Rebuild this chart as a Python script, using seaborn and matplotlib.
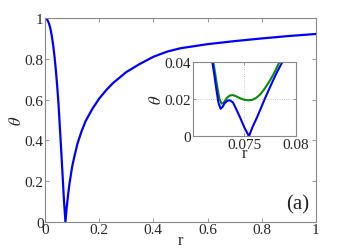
import matplotlib
matplotlib.use("Agg")
import matplotlib.pyplot as plt
import seaborn as sns
import pandas as pd

# main curve (blue)
r_main = [0.0, 0.005, 0.01, 0.015, 0.02, 0.025, 0.03, 0.035, 0.04, 0.045, 0.05, 0.055,
          0.06, 0.065, 0.07, 0.0754, 0.08, 0.085, 0.09, 0.1, 0.11, 0.12, 0.135, 0.15,
          0.175, 0.2, 0.225, 0.25, 0.3, 0.35, 0.4, 0.45, 0.5, 0.6, 0.7, 0.8, 0.9, 1.0]
theta_main = [1.0, 0.997, 0.988, 0.972, 0.948, 0.912, 0.868, 0.812, 0.745, 0.665, 0.575, 0.46,
              0.345, 0.225, 0.105, 0.0, 0.07, 0.13, 0.185, 0.27, 0.33, 0.385, 0.445, 0.495,
              0.555, 0.605, 0.645, 0.68, 0.735, 0.775, 0.81, 0.835, 0.852, 0.872, 0.887,
              0.9, 0.912, 0.922]

# inset curves
r_in_blue = [0.0719, 0.0721, 0.0723, 0.0725, 0.0727, 0.0729, 0.0731, 0.0734, 0.0736, 0.0739,
             0.0742, 0.0746, 0.0750, 0.07545, 0.0758, 0.0762, 0.0766, 0.0770, 0.0774,
             0.0778, 0.0782, 0.0786, 0.0789]
theta_in_blue = [0.040, 0.033, 0.025, 0.018, 0.0148, 0.0158, 0.0178, 0.0192, 0.0193, 0.0182,
                 0.0148, 0.0100, 0.0048, 0.0, 0.0050, 0.0098, 0.0150, 0.0203, 0.0253,
                 0.0302, 0.0348, 0.0390, 0.0420]
r_in_green = [0.0720, 0.0722, 0.0724, 0.0726, 0.0728, 0.0730, 0.0733, 0.0736, 0.0739,
              0.0742, 0.0746, 0.0750, 0.0754, 0.0758, 0.0762, 0.0766, 0.0770, 0.0774,
              0.0778, 0.0782, 0.0785]
theta_in_green = [0.040, 0.033, 0.026, 0.020, 0.0175, 0.0180, 0.0205, 0.0219, 0.0221,
                  0.0215, 0.0204, 0.0196, 0.0193, 0.0196, 0.0208, 0.0228, 0.0258, 0.0292,
                  0.0330, 0.0375, 0.0410]

main_xticks = [0, 0.2, 0.4, 0.6, 0.8, 1]
main_xticklabels = ["0", "0.2", "0.4", "0.6", "0.8", "1"]
main_yticks = [0, 0.2, 0.4, 0.6, 0.8, 1]
main_yticklabels = ["0", "0.2", "0.4", "0.6", "0.8", "1"]
in_xticks = [0.075, 0.08]
in_xticklabels = ["0.075", "0.08"]
in_yticks = [0, 0.02, 0.04]
in_yticklabels = ["0", "0.02", "0.04"]

sns.set_style("ticks")
plt.rcParams['font.family'] = ['Liberation Serif', 'DejaVu Serif']
plt.rcParams['mathtext.fontset'] = 'stix'

fig = plt.figure(figsize=(3.49, 2.51), dpi=100)
ax = fig.add_axes([0.129, 0.112, 0.776, 0.812])

df_main = pd.DataFrame({"r": r_main, "theta": theta_main})
sns.lineplot(data=df_main, x="r", y="theta", ax=ax, color="#0000ff", lw=1.6,
             sort=False, estimator=None)
ax.set_xlim(0, 1)
ax.set_ylim(0, 1)
ax.set_xticks(main_xticks)
ax.set_xticklabels(main_xticklabels)
ax.set_yticks(main_yticks)
ax.set_yticklabels(main_yticklabels)
ax.tick_params(direction="in", top=True, right=True, length=3, width=0.6,
               color="#888888", labelsize=11, pad=1)
for s in ax.spines.values():
    s.set_color("#888888")
    s.set_linewidth(0.8)
ax.set_xlabel("r", fontsize=12, labelpad=-3)
ax.set_ylabel(r"$\theta$", fontsize=12, labelpad=0)
ax.text(0.975, 0.04, "(a)", transform=ax.transAxes, ha="right", va="bottom", fontsize=15)

axi = fig.add_axes([0.552, 0.453, 0.296, 0.297])
df_b = pd.DataFrame({"r": r_in_blue, "theta": theta_in_blue})
df_g = pd.DataFrame({"r": r_in_green, "theta": theta_in_green})
sns.lineplot(data=df_g, x="r", y="theta", ax=axi, color="#0a8a0a", lw=1.5,
             sort=False, estimator=None)
sns.lineplot(data=df_b, x="r", y="theta", ax=axi, color="#0000ff", lw=1.5,
             sort=False, estimator=None)
axi.set_xlim(0.07, 0.08)
axi.set_ylim(0, 0.04)
axi.set_xticks(in_xticks)
axi.set_xticklabels(in_xticklabels)
axi.set_yticks(in_yticks)
axi.set_yticklabels(in_yticklabels)
axi.grid(True, linestyle=":", color="#bbbbbb", lw=0.6)
axi.tick_params(direction="in", top=True, right=True, length=2.5, width=0.6,
                color="#888888", labelsize=11, pad=1)
for s in axi.spines.values():
    s.set_color("#888888")
    s.set_linewidth(0.8)
axi.set_xlabel("r", fontsize=12, labelpad=-4)
axi.set_ylabel(r"$\theta$", fontsize=12, labelpad=0)

fig.savefig("out.png", dpi=100)
